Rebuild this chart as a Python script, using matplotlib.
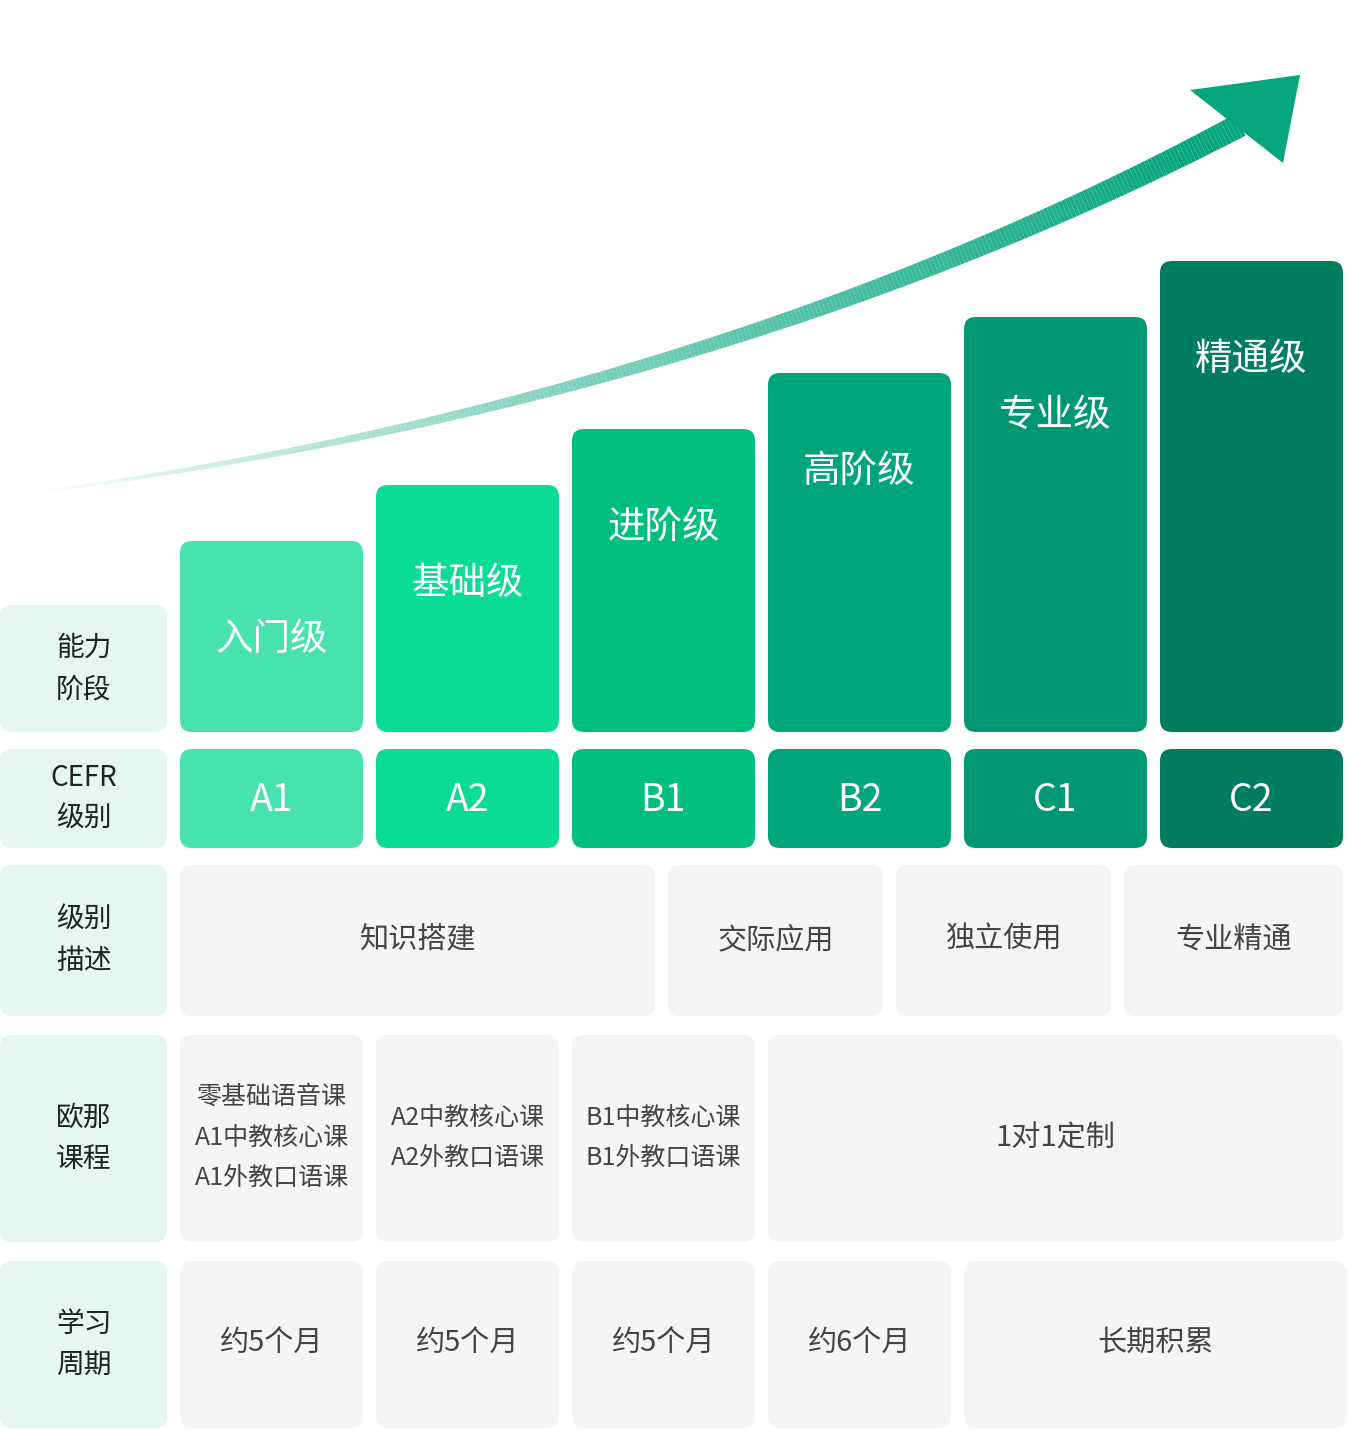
import matplotlib
matplotlib.use("Agg")
import matplotlib.pyplot as plt
from matplotlib.patches import FancyBboxPatch, Polygon
from matplotlib.collections import LineCollection
import numpy as np
from matplotlib.colors import to_rgb

plt.rcParams['font.family'] = ['Noto Sans CJK SC', 'DejaVu Sans']

stages = ["入门级", "基础级", "进阶级", "高阶级", "专业级", "精通级"]
cefr = ["A1", "A2", "B1", "B2", "C1", "C2"]
levels = [1, 2, 3, 4, 5, 6]
bar_colors = ["#47E2B0", "#0ADB95", "#00BF7E", "#00A57A", "#009872", "#007D5E"]
row_labels = ["能力\n阶段", "CEFR\n级别", "级别\n描述", "欧那\n课程", "学习\n周期"]
desc = [("知识搭建", 0, 2.5), ("交际应用", 2.5, 3.6), ("独立使用", 3.6, 4.7), ("专业精通", 4.7, 6)]
courses = [("零基础语音课\nA1中教核心课\nA1外教口语课", 0, 1), ("A2中教核心课\nA2外教口语课", 1, 2),
           ("B1中教核心课\nB1外教口语课", 2, 3), ("1对1定制", 3, 6)]
periods = [("约5个月", 0, 1), ("约5个月", 1, 2), ("约5个月", 2, 3), ("约6个月", 3, 4), ("长期积累", 4, 6)]

fig = plt.figure(figsize=(13.48, 14.29), dpi=100)
ax = fig.add_axes([0, 0, 1, 1])
ax.set_xlim(0, 1348); ax.set_ylim(1429, 0); ax.axis('off')

X0, CW, G = 180, 183, 13
def colx(i): return X0 + i * (CW + G)
def span(a, b):
    # a,b may be fractional for description row
    xa = X0 + a * (CW + G) if a == int(a) else a
    return xa
def box(x0, y0, x1, y1, c, r=12):
    ax.add_patch(FancyBboxPatch((x0, y0), x1 - x0, y1 - y0,
                 boxstyle=f"round,pad=0,rounding_size={r}", fc=c, ec='none'))

LBL = "#E6F7F0"; GRAY = "#F5F5F5"
rows = [(605, 732), (749, 848), (865, 1016), (1035, 1242), (1261, 1428)]
for (y0, y1), t in zip(rows, row_labels):
    box(0, y0, 167, y1, LBL)
    ax.text(84, (y0 + y1) / 2, t, ha='center', va='center', fontsize=20, color='#222', linespacing=1.5)

BOT = 732
for i, (s, c, lv) in enumerate(zip(stages, bar_colors, levels)):
    top = BOT - (135 + 56 * lv)
    box(colx(i), top, colx(i) + CW, BOT, c)
    ax.text(colx(i) + CW / 2, top + 98, s, ha='center', va='center', fontsize=27, color='white')
    box(colx(i), 749, colx(i) + CW, 848, c)
    ax.text(colx(i) + CW / 2, 800, cefr[i], ha='center', va='center', fontsize=27, color='white')

# description row (custom widths)
dx = [(180, 655), (668, 883), (896, 1111), (1124, 1343)]
for (t, _, _), (x0, x1) in zip(desc, dx):
    box(x0, 865, x1, 1016, GRAY)
    ax.text((x0 + x1) / 2, 940, t, ha='center', va='center', fontsize=21, color='#444')

for t, a, b in courses:
    x0, x1 = colx(a), colx(b) - G
    box(x0, 1035, x1, 1242, GRAY)
    ax.text((x0 + x1) / 2, 1138, t, ha='center', va='center', fontsize=18 if '\n' in t else 21,
            color='#444', linespacing=1.75)

for t, a, b in periods:
    x0, x1 = colx(a), (colx(b) - G if b < 6 else 1347)
    box(x0, 1261, x1, 1428, GRAY)
    ax.text((x0 + x1) / 2, 1343, t, ha='center', va='center', fontsize=21, color='#444')

# arrow
P0, P1, P2 = np.array([40, 492]), np.array([720, 400]), np.array([1240, 125])
t = np.linspace(0, 1, 300)
pts = ((1 - t)[:, None] ** 2) * P0 + (2 * (1 - t) * t)[:, None] * P1 + (t[:, None] ** 2) * P2
segs = np.stack([pts[:-1], pts[1:]], axis=1)
c0, c1 = np.array(to_rgb("#FFFFFF")), np.array(to_rgb("#06A67C"))
tm = t[:-1]
cols = [tuple(c0 + (c1 - c0) * min(1, v ** 0.8 * 1.05)) for v in tm]
lws = (2 + 22 * tm) * 0.72
ax.add_collection(LineCollection(segs, colors=cols, linewidths=lws, capstyle='butt'))
ax.add_patch(Polygon([[1300, 75], [1190, 90], [1283, 163]], closed=True, fc="#06A67C", ec='none'))

fig.savefig("out.png", dpi=100)
